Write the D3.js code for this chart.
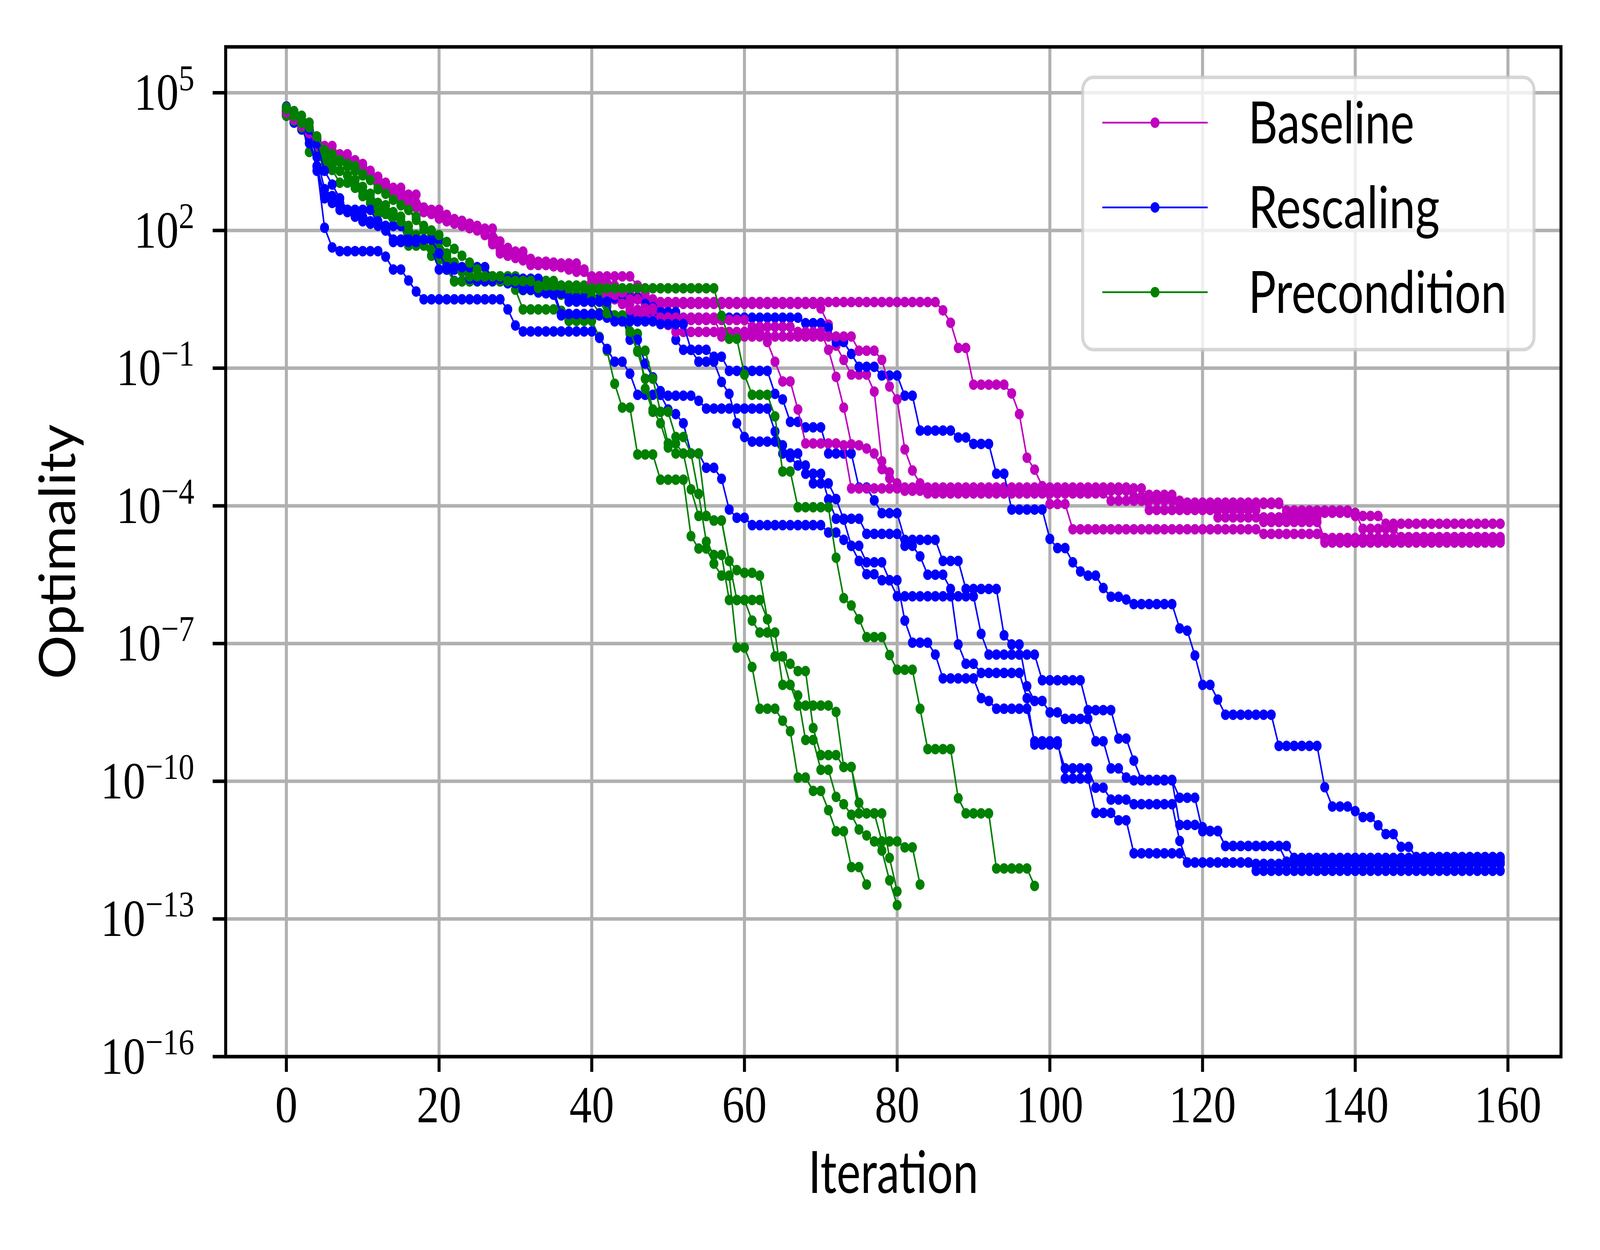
<!DOCTYPE html>
<html>
<head>
<meta charset="utf-8">
<script src="https://cdn.jsdelivr.net/npm/d3@7"></script>
<style>
  html, body { margin: 0; padding: 0; background: #fff; width: 100%; height: 100%; overflow: hidden; }
  #chart { width: 100vw; height: 100vh; }
  svg { display: block; width: 100%; height: 100%; }
</style>
</head>
<body>
<div id="chart"></div>
<script>
// Each run: [iteration, log10(optimality)] — the value holds from that iteration
// until the next entry; the last entry is the final iteration of the run.
var baselineRuns = [
  [[0,4.6],[1,4.45],[2,4.3],[3,4.15],[4,3.95],[5,3.84],[7,3.66],[9,3.53],[10,3.45],[11,3.3],[12,3.17],[13,3.04],[14,2.93],[16,2.78],[18,2.45],[21,2.34],[22,2.21],[24,2.15],[25,2.1],[26,2.04],[28,1.76],[29,1.54],[32,1.28],[39,1.15],[40,1.0],[46,0.8],[47,0.63],[48,0.5],[49,0.44],[86,0.26],[87,-0.01],[88,-0.56],[90,-1.36],[95,-1.55],[96,-2.0],[97,-2.95],[98,-3.21],[99,-3.57],[100,-3.96],[103,-4.51],[128,-4.61],[136,-4.8],[159,-4.8]],
  [[0,4.55],[1,4.4],[2,4.25],[3,4.05],[4,3.85],[5,3.75],[6,3.6],[8,3.45],[9,3.38],[10,3.25],[11,3.12],[12,3.0],[13,2.88],[15,2.7],[17,2.5],[19,2.4],[20,2.28],[22,2.15],[24,2.05],[26,1.95],[27,1.7],[28,1.5],[30,1.4],[32,1.25],[36,1.2],[38,1.1],[40,0.9],[41,0.75],[42,0.6],[43,0.5],[44,0.4],[45,0.27],[50,-0.06],[51,-0.21],[63,-0.43],[64,-0.86],[65,-1.29],[67,-1.9],[68,-2.64],[73,-2.68],[74,-3.62],[113,-3.76],[117,-3.96],[131,-4.1],[140,-4.22],[144,-4.39],[159,-4.39]],
  [[0,4.5],[1,4.38],[2,4.22],[3,4.1],[4,3.9],[5,3.78],[6,3.7],[7,3.58],[8,3.5],[9,3.42],[10,3.35],[11,3.22],[12,3.1],[13,2.98],[14,2.85],[15,2.75],[16,2.65],[17,2.55],[18,2.4],[20,2.3],[21,2.2],[23,2.1],[25,2.0],[27,1.85],[28,1.6],[29,1.45],[31,1.35],[33,1.25],[37,1.15],[40,0.95],[42,0.8],[44,0.7],[46,0.55],[48,0.4],[70,0.3],[71,-0.05],[72,-0.51],[73,-0.82],[74,-1.14],[77,-1.51],[78,-3.03],[79,-3.27],[80,-3.51],[81,-3.6],[111,-3.83],[113,-4.09],[128,-4.35],[136,-4.7],[159,-4.7]],
  [[0,4.62],[1,4.5],[2,4.35],[3,4.2],[4,4.0],[5,3.8],[6,3.72],[7,3.62],[8,3.55],[9,3.48],[10,3.38],[11,3.25],[12,3.12],[13,3.0],[14,2.9],[15,2.82],[16,2.7],[17,2.6],[18,2.48],[19,2.38],[21,2.25],[23,2.18],[24,2.08],[26,1.98],[27,1.8],[28,1.62],[30,1.5],[31,1.38],[33,1.3],[36,1.25],[38,1.12],[40,0.98],[41,0.85],[43,0.65],[45,0.5],[47,0.3],[49,0.1],[57,-0.31],[75,-0.62],[78,-0.82],[79,-1.4],[80,-1.68],[81,-2.77],[82,-3.23],[83,-3.51],[84,-3.73],[108,-3.89],[118,-4.03],[122,-4.25],[136,-4.76],[159,-4.76]],
  [[0,4.58],[1,4.42],[2,4.28],[3,4.12],[4,3.92],[5,3.8],[6,3.68],[7,3.6],[8,3.52],[9,3.44],[10,3.32],[11,3.2],[12,3.08],[13,2.96],[14,2.86],[15,2.76],[16,2.62],[17,2.52],[18,2.42],[19,2.36],[20,2.26],[22,2.18],[24,2.1],[25,2.02],[26,1.9],[27,1.75],[28,1.55],[30,1.45],[32,1.32],[35,1.22],[38,1.12],[40,0.85],[42,0.6],[44,0.4],[46,0.2],[48,0.05],[61,-0.1],[67,-0.21],[71,-0.6],[72,-1.19],[73,-1.86],[74,-2.66],[75,-2.68],[76,-2.75],[77,-2.86],[78,-3.2],[79,-3.4],[80,-3.55],[81,-3.67],[111,-3.8],[117,-3.93],[131,-4.15],[141,-4.5],[146,-4.68],[159,-4.68]]
];

var rescalingRuns = [
  [[0,4.7],[1,4.5],[2,4.3],[3,4.05],[4,3.3],[5,2.7],[6,2.6],[7,2.45],[11,2.15],[12,2.1],[14,1.8],[21,1.3],[22,0.9],[35,0.6],[36,0.15],[51,-0.38],[52,-0.6],[56,-0.75],[58,-1.06],[64,-1.56],[65,-1.68],[66,-2.17],[68,-2.29],[71,-2.86],[75,-3.6],[77,-3.88],[78,-4.16],[81,-4.74],[86,-5.2],[89,-5.81],[94,-6.82],[95,-7.02],[97,-7.93],[98,-8.25],[100,-8.5],[102,-8.64],[106,-9.13],[108,-9.72],[110,-9.92],[111,-9.98],[117,-10.36],[120,-11.09],[123,-11.41],[132,-11.67],[159,-11.67]],
  [[0,4.6],[1,4.45],[2,4.3],[3,4.0],[4,3.4],[5,2.06],[6,1.63],[7,1.55],[13,1.43],[14,1.15],[16,0.91],[17,0.67],[18,0.5],[29,0.28],[30,-0.07],[31,-0.2],[41,-0.34],[42,-0.58],[43,-0.86],[45,-1.12],[46,-1.58],[50,-1.9],[51,-2.0],[52,-2.2],[53,-2.86],[55,-3.17],[57,-3.41],[58,-4.08],[59,-4.26],[61,-4.42],[71,-4.58],[73,-4.74],[74,-4.87],[76,-5.23],[79,-5.62],[81,-6.5],[82,-6.98],[85,-7.24],[86,-7.76],[91,-8.19],[92,-8.25],[93,-8.42],[98,-9.13],[102,-9.94],[106,-10.69],[109,-10.85],[111,-11.57],[118,-11.77],[127,-11.8],[159,-11.8]],
  [[0,4.55],[1,4.4],[2,4.2],[3,3.9],[4,3.4],[5,2.75],[6,2.71],[7,2.6],[8,2.45],[12,2.15],[13,2.1],[16,1.85],[17,1.8],[21,1.15],[24,0.95],[29,0.85],[33,0.65],[37,0.53],[47,0.4],[48,0.33],[49,0.22],[52,0.1],[68,-0.02],[71,-0.12],[72,-0.43],[74,-0.69],[75,-0.97],[78,-1.16],[81,-1.6],[83,-2.36],[88,-2.51],[90,-2.65],[93,-3.3],[95,-4.08],[100,-4.72],[101,-4.92],[103,-5.23],[104,-5.43],[105,-5.52],[107,-5.79],[108,-5.98],[110,-6.04],[111,-6.14],[117,-6.67],[118,-6.72],[119,-7.26],[120,-7.9],[122,-8.22],[123,-8.55],[130,-9.23],[136,-10.13],[137,-10.55],[140,-10.65],[141,-10.78],[143,-10.96],[144,-11.15],[146,-11.43],[148,-11.65],[159,-11.65]],
  [[0,4.5],[1,4.35],[2,4.25],[3,4.1],[4,3.6],[5,2.9],[6,2.75],[7,2.6],[8,2.4],[9,2.3],[10,2.2],[13,2.0],[14,1.75],[19,1.6],[20,1.15],[24,1.0],[25,0.9],[31,0.71],[36,0.18],[42,0.1],[45,-0.38],[47,-0.9],[48,-1.2],[49,-1.5],[50,-1.6],[54,-1.71],[55,-1.88],[64,-2.38],[65,-2.68],[66,-2.94],[67,-3.12],[69,-3.51],[72,-3.85],[73,-4.3],[74,-4.87],[75,-5.2],[76,-5.49],[78,-5.62],[80,-5.97],[91,-6.79],[92,-7.24],[99,-7.8],[105,-8.45],[109,-9.07],[111,-9.55],[112,-9.97],[117,-10.95],[120,-11.0],[121,-11.08],[123,-11.41],[131,-11.75],[159,-11.75]],
  [[0,4.65],[1,4.5],[2,4.35],[3,4.2],[4,3.9],[5,3.3],[6,3.0],[7,2.7],[8,2.45],[9,2.4],[10,2.3],[11,2.15],[13,2.0],[14,1.8],[20,1.5],[21,1.2],[27,0.95],[34,0.63],[37,0.45],[43,0.02],[49,-0.04],[53,-0.6],[54,-0.86],[57,-1.3],[58,-1.56],[59,-2.2],[60,-2.5],[61,-2.6],[65,-2.86],[68,-3.3],[71,-3.86],[72,-4.28],[76,-4.61],[81,-4.87],[83,-5.1],[84,-5.5],[87,-5.81],[88,-7.02],[89,-7.44],[91,-7.64],[97,-8.19],[98,-9.2],[102,-9.72],[106,-10.14],[108,-10.4],[111,-10.5],[117,-11.3],[118,-11.77],[127,-11.95],[159,-11.95]]
];

var preconditionRuns = [
  [[0,4.55],[1,4.45],[2,4.3],[3,3.71],[4,3.65],[5,3.4],[6,3.32],[7,3.04],[9,2.93],[10,2.75],[11,2.6],[12,2.36],[14,2.1],[16,1.67],[19,1.45],[20,1.37],[21,1.15],[22,0.89],[30,0.71],[31,0.28],[36,0.25],[37,0.03],[41,-0.32],[42,-0.62],[43,-1.34],[44,-1.86],[46,-2.88],[49,-3.43],[53,-4.66],[54,-4.93],[56,-5.26],[57,-5.52],[59,-7.09],[61,-7.51],[62,-8.42],[65,-8.68],[66,-8.91],[67,-9.92],[69,-10.21],[71,-10.63],[72,-11.09],[74,-11.87],[76,-12.25]],
  [[0,4.68],[1,4.6],[2,4.5],[3,4.35],[4,4.0],[5,3.75],[6,3.6],[7,3.5],[8,3.4],[9,3.3],[10,3.2],[11,3.1],[12,2.93],[14,2.67],[16,2.45],[17,2.23],[18,2.01],[19,1.89],[20,1.76],[21,1.5],[22,1.3],[23,1.2],[27,1.0],[30,0.85],[31,0.7],[36,0.6],[40,0.45],[41,0.2],[42,0.12],[45,-0.25],[47,-1.45],[48,-1.95],[50,-2.64],[52,-2.86],[54,-3.74],[55,-4.78],[56,-5.07],[58,-6.05],[61,-6.5],[62,-6.76],[65,-7.9],[67,-8.13],[68,-9.1],[70,-9.75],[72,-10.34],[73,-10.5],[74,-10.73],[75,-11.05],[76,-11.18],[77,-11.31],[78,-11.51],[79,-12.16],[80,-12.7]],
  [[0,4.6],[1,4.55],[2,4.4],[3,4.2],[4,3.95],[5,3.6],[6,3.45],[7,3.3],[8,3.2],[9,3.1],[10,2.95],[11,2.8],[12,2.6],[13,2.55],[14,2.4],[15,2.3],[16,2.1],[17,1.9],[18,1.8],[20,1.6],[21,1.45],[22,1.3],[23,1.15],[26,1.0],[31,0.9],[36,0.8],[40,0.7],[42,0.35],[43,0.15],[45,-0.2],[46,-0.64],[47,-1.23],[48,-1.9],[49,-2.2],[50,-2.73],[51,-2.86],[53,-3.64],[54,-4.22],[56,-4.32],[58,-5.2],[59,-5.4],[60,-5.46],[62,-5.52],[63,-6.47],[64,-7.28],[66,-7.44],[67,-7.6],[69,-8.84],[70,-9.43],[73,-9.69],[75,-10.47],[76,-10.7],[79,-11.67],[80,-12.4]],
  [[0,4.5],[1,4.4],[2,4.25],[3,4.19],[4,3.92],[5,3.55],[6,3.4],[7,3.3],[8,3.2],[9,3.0],[10,2.85],[11,2.7],[12,2.5],[13,2.45],[14,2.3],[15,2.2],[16,2.0],[17,1.85],[18,1.75],[19,1.6],[20,1.5],[21,1.4],[22,1.2],[23,1.1],[24,1.0],[28,0.9],[33,0.75],[40,0.55],[41,0.45],[42,0.2],[43,0.12],[45,-0.2],[46,-0.62],[48,-1.23],[49,-1.95],[51,-2.5],[53,-2.86],[55,-4.22],[56,-4.32],[58,-5.2],[59,-6.05],[63,-6.47],[64,-7.28],[66,-7.9],[67,-8.35],[72,-8.49],[73,-9.69],[75,-10.7],[78,-11.31],[81,-11.44],[83,-12.25]],
  [[0,4.65],[1,4.5],[2,4.35],[3,4.25],[4,4.05],[5,3.75],[6,3.66],[7,3.53],[8,3.45],[9,3.4],[10,3.23],[11,3.1],[12,2.9],[13,2.8],[14,2.67],[15,2.55],[16,2.45],[17,2.3],[18,2.1],[19,2.0],[20,1.9],[21,1.75],[22,1.6],[23,1.45],[24,1.3],[25,1.15],[26,1.0],[29,0.9],[33,0.8],[37,0.74],[57,0.14],[58,-0.36],[60,-1.14],[61,-1.58],[64,-2.05],[65,-3.25],[67,-4.03],[72,-5.13],[73,-6.01],[74,-6.17],[75,-6.47],[76,-6.86],[79,-7.25],[80,-7.57],[83,-8.42],[84,-9.3],[88,-10.37],[89,-10.7],[93,-11.9],[98,-12.28]]
];

var seriesNames = ["Baseline", "Rescaling", "Precondition"];
var seriesColors = ["#bf00bf", "#0000ff", "#008000"];
var xTicks = [0, 20, 40, 60, 80, 100, 120, 140, 160];
var yTickExponents = [-16, -13, -10, -7, -4, -1, 2, 5];

var W = 4800, H = 3200;
var m = {left: 677, right: 4683, top: 120, bottom: 2705};

// one point per iteration, keeping each level until the next change
function expandRun(run) {
    var pts = [];
    for (var k = 0; k < run.length - 1; k++) {
        for (var it = run[k][0]; it < run[k + 1][0]; it++) pts.push([it, run[k][1]]);
    }
    pts.push(run[run.length - 1]);
    return pts;
}

// the window can be narrower than 4800, so the drawing is stretched to fill it
var svg = d3.select("#chart").append("svg")
    .attr("viewBox", "0 0 " + W + " " + H)
    .attr("preserveAspectRatio", "none");

svg.append("rect").attr("width", W).attr("height", H).attr("fill", "#fff");

var x = d3.scaleLinear().domain([-7.95, 166.95]).range([m.left, m.right]);
var y = d3.scaleLog().domain([1e-16, 1e6]).range([m.bottom, m.top]);

var serif = "'Liberation Serif', 'DejaVu Serif', serif";
var sans = "Lato, 'Open Sans', 'DejaVu Sans', sans-serif";

//Grid
var grid = svg.append("g").attr("stroke", "#b0b0b0").attr("stroke-width", 9);
grid.selectAll(".gx").data(xTicks).enter().append("line")
    .attr("x1", function(d) { return x(d); }).attr("x2", function(d) { return x(d); })
    .attr("y1", m.top).attr("y2", m.bottom);
grid.selectAll(".gy").data(yTickExponents).enter().append("line")
    .attr("x1", m.left).attr("x2", m.right)
    .attr("y1", function(d) { return y(Math.pow(10, d)); })
    .attr("y2", function(d) { return y(Math.pow(10, d)); });

//Data
var line = d3.line()
    .x(function(d) { return x(d[0]); })
    .y(function(d) { return y(Math.pow(10, d[1])); });

var allRuns = [baselineRuns, rescalingRuns, preconditionRuns];
var plot = svg.append("g");
for (var r = 0; r < 5; r++) {
    for (var s = 0; s < 3; s++) {
        var pts = expandRun(allRuns[s][r]);
        var g = plot.append("g");
        g.append("path")
            .attr("d", line(pts))
            .attr("fill", "none")
            .attr("stroke", seriesColors[s])
            .attr("stroke-width", 4.6)
            .attr("stroke-linejoin", "round");
        g.selectAll("circle").data(pts).enter().append("circle")
            .attr("cx", function(d) { return x(d[0]); })
            .attr("cy", function(d) { return y(Math.pow(10, d[1])); })
            .attr("r", 13.5)
            .attr("fill", seriesColors[s]);
    }
}

//Axes frame and ticks
var axes = svg.append("g").attr("stroke", "#000").attr("stroke-width", 9);
axes.append("rect")
    .attr("x", m.left).attr("y", m.top)
    .attr("width", m.right - m.left).attr("height", m.bottom - m.top)
    .attr("fill", "none").attr("stroke-linejoin", "miter");
axes.selectAll(".tx").data(xTicks).enter().append("line")
    .attr("x1", function(d) { return x(d); }).attr("x2", function(d) { return x(d); })
    .attr("y1", m.bottom).attr("y2", m.bottom + 39);
axes.selectAll(".ty").data(yTickExponents).enter().append("line")
    .attr("x1", m.left - 39).attr("x2", m.left)
    .attr("y1", function(d) { return y(Math.pow(10, d)); })
    .attr("y2", function(d) { return y(Math.pow(10, d)); });

svg.selectAll(".xl").data(xTicks).enter().append("text")
    .attr("x", function(d) { return x(d); })
    .attr("y", 2873)
    .attr("text-anchor", "middle")
    .attr("font-family", serif)
    .attr("font-size", 134)
    .text(function(d) { return d; });

var yl = svg.selectAll(".yl").data(yTickExponents).enter().append("text")
    .attr("x", 583)
    .attr("y", function(d) { return y(Math.pow(10, d)) + 44; })
    .attr("text-anchor", "end")
    .attr("font-family", serif)
    .attr("font-size", 134);
yl.append("tspan").text("10");
yl.append("tspan")
    .attr("dy", -50)
    .attr("font-size", 94)
    .text(function(d) { return d < 0 ? "\u2212" + (-d) : d; });

// text label for the axes
svg.append("text")
    .attr("x", (m.left + m.right) / 2)
    .attr("y", 3054)
    .attr("text-anchor", "middle")
    .attr("font-family", sans)
    .attr("font-size", 150)
    .attr("textLength", 510)
    .attr("lengthAdjust", "spacingAndGlyphs")
    .text("Iteration");

svg.append("text")
    .attr("transform", "translate(225," + ((m.top + m.bottom) / 2) + ") rotate(-90)")
    .attr("text-anchor", "middle")
    .attr("font-family", sans)
    .attr("font-size", 150)
    .attr("textLength", 653)
    .attr("lengthAdjust", "spacingAndGlyphs")
    .text("Optimality");

//Legend
var legend = svg.append("g");
legend.append("rect")
    .attr("x", 3248).attr("y", 198)
    .attr("width", 1354).attr("height", 697)
    .attr("rx", 32).attr("ry", 32)
    .attr("fill", "#fff").attr("fill-opacity", 0.8)
    .attr("stroke", "#cccccc").attr("stroke-opacity", 0.8)
    .attr("stroke-width", 9);

var legendWidths = [498, 574, 775];
var rows = legend.selectAll(".row").data(seriesNames).enter().append("g")
    .attr("transform", function(d, i) { return "translate(0," + (314 + i * 217) + ")"; });
rows.append("line")
    .attr("x1", 3307).attr("x2", 3623)
    .attr("stroke", function(d, i) { return seriesColors[i]; })
    .attr("stroke-width", 4.6);
rows.append("circle")
    .attr("cx", 3465).attr("r", 13.5)
    .attr("fill", function(d, i) { return seriesColors[i]; });
rows.append("text")
    .attr("x", 3745).attr("y", 53)
    .attr("font-family", sans)
    .attr("font-size", 150)
    .attr("textLength", function(d, i) { return legendWidths[i]; })
    .attr("lengthAdjust", "spacingAndGlyphs")
    .text(function(d) { return d; });
</script>
</body>
</html>
